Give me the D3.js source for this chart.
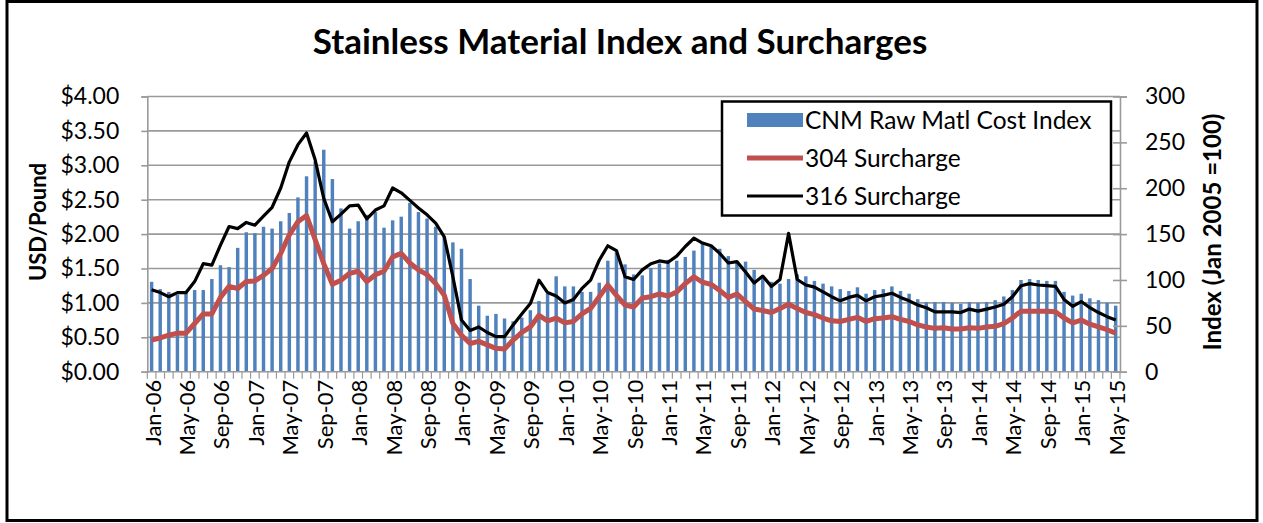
<!DOCTYPE html>
<html>
<head>
<meta charset="utf-8">
<script src="https://cdn.jsdelivr.net/npm/d3@7"></script>
<style>
  body { margin: 0; background: #fff; }
  svg text { font-family: Lato, "Open Sans", sans-serif; fill: #000; }
</style>
</head>
<body>
<svg id="chart" width="1263" height="523"></svg>
<script>
// Stainless material index (bars, right axis) and 304/316 surcharges (lines, left axis)

var months = [
  'Jan-06','Feb-06','Mar-06','Apr-06','May-06','Jun-06','Jul-06','Aug-06','Sep-06','Oct-06','Nov-06','Dec-06',
  'Jan-07','Feb-07','Mar-07','Apr-07','May-07','Jun-07','Jul-07','Aug-07','Sep-07','Oct-07','Nov-07','Dec-07',
  'Jan-08','Feb-08','Mar-08','Apr-08','May-08','Jun-08','Jul-08','Aug-08','Sep-08','Oct-08','Nov-08','Dec-08',
  'Jan-09','Feb-09','Mar-09','Apr-09','May-09','Jun-09','Jul-09','Aug-09','Sep-09','Oct-09','Nov-09','Dec-09',
  'Jan-10','Feb-10','Mar-10','Apr-10','May-10','Jun-10','Jul-10','Aug-10','Sep-10','Oct-10','Nov-10','Dec-10',
  'Jan-11','Feb-11','Mar-11','Apr-11','May-11','Jun-11','Jul-11','Aug-11','Sep-11','Oct-11','Nov-11','Dec-11',
  'Jan-12','Feb-12','Mar-12','Apr-12','May-12','Jun-12','Jul-12','Aug-12','Sep-12','Oct-12','Nov-12','Dec-12',
  'Jan-13','Feb-13','Mar-13','Apr-13','May-13','Jun-13','Jul-13','Aug-13','Sep-13','Oct-13','Nov-13','Dec-13',
  'Jan-14','Feb-14','Mar-14','Apr-14','May-14','Jun-14','Jul-14','Aug-14','Sep-14','Oct-14','Nov-14','Dec-14',
  'Jan-15','Feb-15','Mar-15','Apr-15','May-15'
];

var rawIndex = [98,90,87,84,86,89,89,101,116,114, 135,152,151,158,156,164,173,190,213,229,
  242,210,178,156,164,171,174,157,165,169, 184,174,167,158,147,141,134,101,72,61,
  63,58,55,59,67,77,85,104,93,93, 87,87,97,121,130,117,106,105,113,118,
  122,121,125,132,140,136,134,126,120,120, 111,104,98,96,101,106,104,99,96,93,
  90,88,92,85,89,90,93,88,85,79, 76,76,76,75,74,76,75,76,78,82,
  89,100,101,100,99,99,87,83,85,80, 78,75,72];

var surcharge304 = [0.46,0.49,0.53,0.56,0.56,0.70,0.84,0.84,1.08,1.24, 1.21,1.31,1.32,1.40,1.50,1.72,1.99,2.18,2.27,1.92,
  1.57,1.27,1.33,1.43,1.46,1.31,1.41,1.46,1.67,1.72, 1.58,1.48,1.41,1.28,1.11,0.70,0.53,0.41,0.44,0.39,
  0.34,0.33,0.46,0.57,0.65,0.82,0.74,0.78,0.71,0.73, 0.84,0.92,1.09,1.26,1.11,0.97,0.94,1.07,1.09,1.13,
  1.10,1.16,1.28,1.38,1.30,1.27,1.18,1.08,1.13,1.02, 0.91,0.89,0.86,0.92,0.98,0.92,0.86,0.83,0.78,0.74,
  0.73,0.76,0.79,0.73,0.77,0.78,0.80,0.76,0.73,0.68, 0.65,0.63,0.64,0.62,0.62,0.64,0.63,0.65,0.66,0.70,
  0.78,0.88,0.88,0.88,0.88,0.87,0.78,0.71,0.75,0.69, 0.65,0.61,0.56];

var surcharge316 = [1.19,1.15,1.09,1.15,1.15,1.31,1.57,1.55,1.84,2.11, 2.08,2.17,2.13,2.26,2.39,2.67,3.05,3.30,3.47,3.08,
  2.52,2.18,2.29,2.41,2.42,2.22,2.35,2.41,2.67,2.60, 2.49,2.38,2.28,2.16,1.96,1.38,0.75,0.60,0.65,0.57,
  0.51,0.51,0.68,0.84,0.99,1.33,1.15,1.10,1.00,1.05, 1.21,1.33,1.62,1.83,1.76,1.38,1.34,1.48,1.57,1.61,
  1.59,1.68,1.82,1.94,1.87,1.83,1.72,1.58,1.60,1.45, 1.29,1.39,1.24,1.34,2.01,1.34,1.26,1.23,1.16,1.09,
  1.03,1.08,1.11,1.03,1.09,1.11,1.14,1.08,1.03,0.97, 0.93,0.87,0.87,0.87,0.86,0.91,0.88,0.91,0.94,0.98,
  1.09,1.25,1.28,1.26,1.25,1.24,1.05,0.95,1.02,0.93, 0.86,0.80,0.75];

var usdTicks = [0, 0.5, 1, 1.5, 2, 2.5, 3, 3.5, 4];
var indexTicks = [0, 50, 100, 150, 200, 250, 300];
var legendNames = ['CNM Raw Matl Cost Index', '304 Surcharge', '316 Surcharge'];

var plotLeft = 147.3, plotRight = 1120, plotTop = 96.5, plotBottom = 371.7;
var svg = d3.select('#chart');
var gridColor = '#9a9a9a';

// outer frame
svg.append('rect')
    .attr('x', 7).attr('y', 1.5)
    .attr('width', 1250).attr('height', 519)
    .style('fill', '#fff')
    .style('stroke', '#000')
    .style('stroke-width', 3);

var x = d3.scaleBand()
    .domain(months)
    .range([plotLeft, plotRight])
    .paddingInner(0.6)
    .paddingOuter(0.3);
var yUsd = d3.scaleLinear().domain([0, 4]).range([plotBottom, plotTop]);
var yIdx = d3.scaleLinear().domain([0, 300]).range([plotBottom, plotTop]);

// gridlines
svg.append('g').selectAll('line')
    .data(usdTicks.slice(1))
    .enter().append('line')
    .attr('x1', plotLeft).attr('x2', plotRight)
    .attr('y1', function(d) { return yUsd(d); })
    .attr('y2', function(d) { return yUsd(d); })
    .style('stroke', gridColor)
    .style('stroke-width', 1.6);

// bars
svg.append('g').selectAll('rect')
    .data(rawIndex)
    .enter().append('rect')
    .attr('x', function(d, i) { return x(months[i]); })
    .attr('width', x.bandwidth())
    .attr('y', function(d) { return yIdx(d); })
    .attr('height', function(d) { return plotBottom - yIdx(d); })
    .style('fill', '#4F81BD');

// left axis
var leftAxis = svg.append('g')
    .attr('transform', 'translate(' + plotLeft + ',0)')
    .call(d3.axisLeft(yUsd).tickValues(usdTicks).tickSize(6).tickPadding(22)
        .tickFormat(function(d) { return '$' + d.toFixed(2); }));

// right axis, ticks crossing the line
var rightAxis = svg.append('g')
    .attr('transform', 'translate(' + plotRight + ',0)')
    .call(d3.axisRight(yIdx).tickValues(indexTicks).tickSize(7).tickPadding(18));
rightAxis.selectAll('.tick line').attr('x1', -7);

// bottom axis: a tick at each category edge, label every 4 months
var xAxis = svg.append('g')
    .attr('transform', 'translate(0,' + plotBottom + ')');
xAxis.append('line')
    .attr('x1', plotLeft).attr('x2', plotRight)
    .style('stroke', gridColor).style('stroke-width', 1.6);
xAxis.selectAll('line.edge')
    .data(months.concat(['end']))
    .enter().append('line')
    .attr('class', 'edge')
    .attr('x1', function(d, i) { return plotLeft + i * x.step(); })
    .attr('x2', function(d, i) { return plotLeft + i * x.step(); })
    .attr('y1', 0).attr('y2', 7)
    .style('stroke', gridColor).style('stroke-width', 1.2);
xAxis.selectAll('text')
    .data(months.filter(function(d, i) { return i % 4 == 0; }))
    .enter().append('text')
    .attr('transform', function(d) {
        return 'translate(' + (x(d) + x.bandwidth() / 2 + 1) + ',8) rotate(-90)';
    })
    .attr('dy', '0.36em')
    .style('text-anchor', 'end')
    .style('font-size', '22px')
    .text(function(d) { return d; });

[leftAxis, rightAxis].forEach(function(g) {
    g.select('.domain').style('stroke', gridColor).style('stroke-width', 1.6);
    g.selectAll('.tick line').style('stroke', gridColor).style('stroke-width', 1.6);
    g.selectAll('.tick text').style('font-size', '23px').style('font-family', 'Lato, sans-serif').style('fill', '#000');
});

// lines
var surchargeLine = d3.line()
    .x(function(d, i) { return x(months[i]) + x.bandwidth() / 2; })
    .y(function(d) { return yUsd(d); });
svg.append('path')
    .datum(surcharge304)
    .attr('d', surchargeLine)
    .style('fill', 'none')
    .style('stroke', '#C0504D')
    .style('stroke-width', 5)
    .style('stroke-linejoin', 'round');
svg.append('path')
    .datum(surcharge316)
    .attr('d', surchargeLine)
    .style('fill', 'none')
    .style('stroke', '#000')
    .style('stroke-width', 3.2)
    .style('stroke-linejoin', 'round');

// titles
svg.append('text')
    .attr('x', 620).attr('y', 54)
    .style('text-anchor', 'middle')
    .style('font-size', '35px')
    .style('font-weight', 'bold')
    .text('Stainless Material Index and Surcharges');
svg.append('text')
    .attr('transform', 'translate(46,222) rotate(-90)')
    .style('text-anchor', 'middle')
    .style('font-size', '22px')
    .style('font-weight', 'bold')
    .text('USD/Pound');
svg.append('text')
    .attr('transform', 'translate(1221,232) rotate(-90)')
    .style('text-anchor', 'middle')
    .style('font-size', '24px')
    .style('font-weight', 'bold')
    .text('Index (Jan 2005 =100)');

// legend
var legend = svg.append('g');
legend.append('rect')
    .attr('x', 722).attr('y', 101.5)
    .attr('width', 389).attr('height', 114)
    .style('fill', '#fff')
    .style('stroke', '#000')
    .style('stroke-width', 2.5);
var rows = legend.selectAll('g.row')
    .data(legendNames)
    .enter().append('g')
    .attr('class', 'row')
    .attr('transform', function(d, i) { return 'translate(0,' + (120 + i * 38) + ')'; });
rows.filter(function(d, i) { return i == 0; }).append('rect')
    .attr('x', 747).attr('y', -7).attr('width', 56).attr('height', 14)
    .style('fill', '#4F81BD');
rows.filter(function(d, i) { return i > 0; }).append('line')
    .attr('x1', 747).attr('x2', 803)
    .style('stroke', function(d, i) { return i == 0 ? '#C0504D' : '#000'; })
    .style('stroke-width', function(d, i) { return i == 0 ? 5 : 3.2; });
rows.append('text')
    .attr('x', 805)
    .attr('dy', '0.36em')
    .style('font-size', '24.5px')
    .text(function(d) { return d; });
</script>
</body>
</html>
